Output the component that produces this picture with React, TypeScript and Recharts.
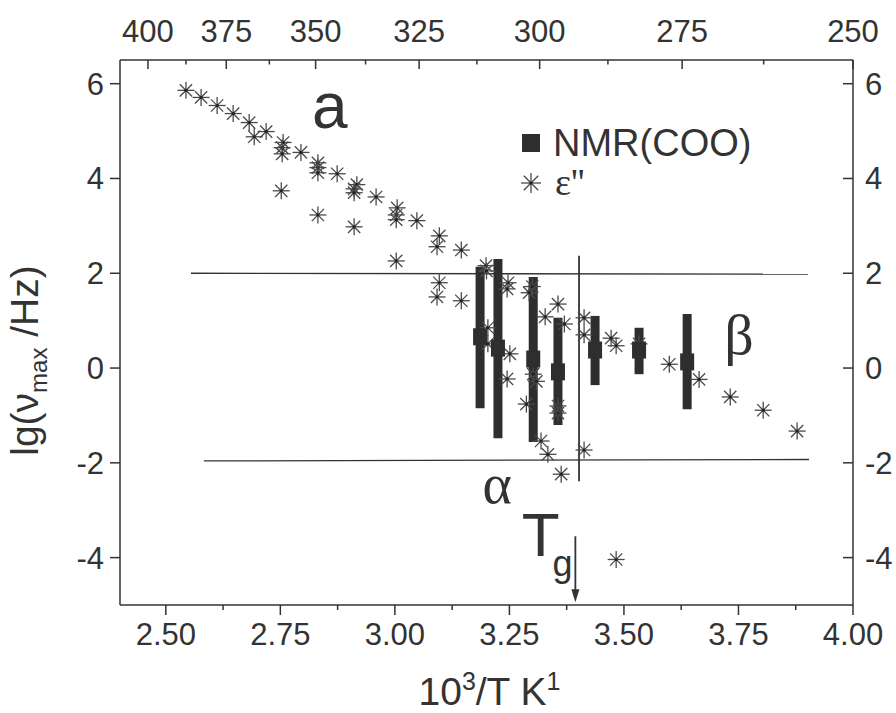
import {
  ComposedChart,
  ErrorBar,
  Legend,
  ReferenceDot,
  ReferenceLine,
  Scatter,
  XAxis,
  YAxis,
} from "recharts";

// eps'' relaxation maxima: 10^3/T and lg(nu_max)
const epsInvT = [
  2.544, 2.577, 2.612, 2.647, 2.682, 2.693, 2.719, 2.756, 2.754, 2.754, 2.795, 2.832, 2.832, 2.832,
  2.874, 2.917, 2.911, 2.911, 2.959, 3.005, 3.003, 3.003, 2.752, 2.832, 2.911, 3.003, 3.048, 3.097,
  3.092, 3.145, 3.097, 3.092, 3.145, 3.199, 3.2, 3.247, 3.245, 3.293, 3.3, 3.356, 3.328, 3.37, 3.413,
  3.413, 3.203, 3.203, 3.251, 3.245, 3.302, 3.309, 3.287, 3.356, 3.356, 3.319, 3.334, 3.363, 3.413,
  3.472, 3.483, 3.533, 3.599, 3.664, 3.732, 3.804, 3.878, 3.483,
];
const epsLg = [
  5.86, 5.71, 5.54, 5.37, 5.18, 4.88, 4.99, 4.76, 4.65, 4.52, 4.55, 4.33, 4.23, 4.12,
  4.1, 3.87, 3.78, 3.7, 3.61, 3.38, 3.23, 3.13, 3.74, 3.23, 2.98, 2.26, 3.11, 2.79,
  2.56, 2.49, 1.8, 1.5, 1.42, 2.16, 2.05, 1.8, 1.67, 1.59, 1.72, 1.35, 1.08, 0.93, 1.06,
  0.7, 0.85, 0.51, 0.3, -0.23, -0.13, -0.28, -0.76, -0.8, -0.95, -1.54, -1.82, -2.24, -1.73,
  0.63, 0.47, 0.51, 0.08, -0.24, -0.61, -0.89, -1.33, -4.04,
];

// NMR(COO): centre and range
const nmrInvT = [3.186, 3.225, 3.302, 3.356, 3.437, 3.533, 3.638];
const nmrLg = [0.66, 0.42, 0.19, -0.08, 0.38, 0.38, 0.13];
const nmrTop = [2.14, 2.3, 1.92, 1.06, 1.1, 0.85, 1.14];
const nmrBottom = [-0.85, -1.48, -1.56, -1.2, -0.36, -0.13, -0.87];

const bottomMajor = [2.5, 2.75, 3.0, 3.25, 3.5, 3.75, 4.0];
const bottomMinor = [2.625, 2.875, 3.125, 3.375, 3.625, 3.875];
// top axis: temperature in K, placed where the original figure puts them
const topLabels = [400, 375, 350, 325, 300, 275, 250];
const topMajorPos = [2.461, 2.632, 2.827, 3.053, 3.316, 3.627, 4.0];
const topMinorPos = [2.544, 2.726, 2.936, 3.179, 3.465, 3.805];
const yTicks = [-4, -2, 0, 2, 4, 6];

const epsData = epsInvT.map((x, i) => ({ x, y: epsLg[i] }));
const nmrData = nmrInvT.map((x, i) => ({ x, y: nmrLg[i], err: [nmrLg[i] - nmrBottom[i], nmrTop[i] - nmrLg[i]] }));

const INK = "#333";
const FONT = "'Liberation Sans', Arial, sans-serif";
const SERIF = "'Liberation Serif', 'Times New Roman', serif";

function StarShape({ cx, cy, r = 8.5 }: any) {
  const d = r * 0.72;
  return (
    <g stroke="#4a4a4a" strokeWidth={1.3}>
      <line x1={cx - r} y1={cy} x2={cx + r} y2={cy} />
      <line x1={cx} y1={cy - r} x2={cx} y2={cy + r} />
      <line x1={cx - d} y1={cy - d} x2={cx + d} y2={cy + d} />
      <line x1={cx - d} y1={cy + d} x2={cx + d} y2={cy - d} />
      <circle cx={cx} cy={cy} r={1.6} fill="#222" stroke="none" />
    </g>
  );
}

function NmrBox({ cx, cy }: any) {
  return <rect x={cx - 7} y={cy - 8.5} width={14} height={17} fill="#2e2e2e" />;
}

function BottomTick({ x, y, payload }: any) {
  const major = bottomMajor.includes(payload.value);
  return (
    <g>
      <line x1={x} y1={y} x2={x} y2={y + (major ? 10 : 5)} stroke={INK} strokeWidth={1.5} />
      {major && (
        <text x={x} y={y + 40} textAnchor="middle" fill={INK} fontSize={31} fontFamily={FONT}>
          {payload.value.toFixed(2)}
        </text>
      )}
    </g>
  );
}

function TopTick({ x, y, payload }: any) {
  const i = topMajorPos.indexOf(payload.value);
  return (
    <g>
      <line x1={x} y1={y} x2={x} y2={y + (i >= 0 ? 9 : 4.5)} stroke={INK} strokeWidth={1.5} />
      {i >= 0 && (
        <text x={x} y={y - 18} textAnchor="middle" fill={INK} fontSize={31} fontFamily={FONT}>
          {topLabels[i]}
        </text>
      )}
    </g>
  );
}

function LeftTick({ x, y, payload }: any) {
  return (
    <g>
      <line x1={x - 10} y1={y} x2={x} y2={y} stroke={INK} strokeWidth={1.5} />
      <text x={x - 16} y={y + 11} textAnchor="end" fill={INK} fontSize={31} fontFamily={FONT}>
        {payload.value}
      </text>
    </g>
  );
}

function RightTick({ x, y, payload }: any) {
  return (
    <g>
      <line x1={x - 10} y1={y} x2={x} y2={y} stroke={INK} strokeWidth={1.5} />
      <text x={x + 12} y={y + 11} textAnchor="start" fill={INK} fontSize={31} fontFamily={FONT}>
        {payload.value}
      </text>
    </g>
  );
}

function YTitle({ viewBox }: any) {
  const cx = viewBox.x - 12;
  const cy = viewBox.y + viewBox.height / 2 + 28;
  return (
    <text transform={`rotate(-90, ${cx}, ${cy})`} x={cx} y={cy} textAnchor="middle" fill={INK} fontSize={39} fontFamily={FONT}>
      lg(ν<tspan dy={9} fontSize={24}>max</tspan>
      <tspan dy={-9}> /Hz)</tspan>
    </text>
  );
}

function XTitle({ viewBox }: any) {
  const cx = viewBox.x + viewBox.width / 2 + 3;
  return (
    <text x={cx} y={705} textAnchor="middle" fill={INK} fontSize={39} fontFamily={FONT}>
      10<tspan dy={-15} fontSize={25}>3</tspan>
      <tspan dy={15}>/T K</tspan>
      <tspan dy={-15} fontSize={25}>1</tspan>
    </text>
  );
}

const textShape = (label: string, size: number, family: string, anchor: "start" | "middle" = "start") =>
  ({ cx, cy }: any) => (
    <text x={cx} y={cy} textAnchor={anchor} fill={INK} fontSize={size} fontFamily={family}>
      {label}
    </text>
  );

function LegendBox() {
  return (
    <svg width={300} height={80} style={{ display: "block", overflow: "visible" }}>
      <rect x={7} y={12} width={18} height={18} fill="#2e2e2e" />
      <text x={38} y={34} fill={INK} fontSize={38} fontFamily={FONT}>NMR(COO)</text>
      <StarShape cx={16} cy={61} r={10} />
      <text x={40} y={73} fill={INK} fontSize={38} fontFamily={SERIF}>ε''</text>
    </svg>
  );
}

export default function App() {
  return (
    <div style={{ position: "absolute", left: 0, top: 0, background: "#fff" }}>
      <ComposedChart width={896} height={713} margin={{ top: 20, right: 3, bottom: 18, left: 50 }}>
        <XAxis
          xAxisId={0}
          type="number"
          dataKey="x"
          domain={[2.4, 4.0]}
          allowDataOverflow
          ticks={[...bottomMajor, ...bottomMinor].sort((a, b) => a - b)}
          interval={0}
          height={90}
          tickSize={0}
          tickMargin={0}
          tickLine={false}
          tick={<BottomTick />}
          axisLine={{ stroke: INK, strokeWidth: 1.5 }}
          label={<XTitle />}
        />
        <XAxis
          xAxisId="top"
          orientation="top"
          type="number"
          dataKey="x"
          domain={[2.4, 4.0]}
          allowDataOverflow
          ticks={[...topMajorPos, ...topMinorPos].sort((a, b) => a - b)}
          interval={0}
          height={40}
          tickSize={0}
          tickMargin={0}
          tickLine={false}
          tick={<TopTick />}
          axisLine={{ stroke: INK, strokeWidth: 1.5 }}
        />
        <YAxis
          yAxisId={0}
          type="number"
          dataKey="y"
          domain={[-5, 6.5]}
          allowDataOverflow
          ticks={yTicks}
          interval={0}
          width={70}
          tickSize={0}
          tickMargin={0}
          tickLine={false}
          tick={<LeftTick />}
          axisLine={{ stroke: INK, strokeWidth: 1.5 }}
          label={<YTitle />}
        />
        <YAxis
          yAxisId="right"
          orientation="right"
          type="number"
          dataKey="y"
          domain={[-5, 6.5]}
          allowDataOverflow
          ticks={yTicks}
          interval={0}
          width={40}
          tickSize={0}
          tickMargin={0}
          tickLine={false}
          tick={<RightTick />}
          axisLine={{ stroke: INK, strokeWidth: 1.5 }}
        />
        {/* invisible series that keeps the top / right axes bound to data */}
        <Scatter
          xAxisId="top"
          yAxisId="right"
          data={epsData}
          shape={() => <g />}
          legendType="none"
          isAnimationActive={false}
        />
        <ReferenceLine segment={[{ x: 2.555, y: 2 }, { x: 3.902, y: 1.98 }]} stroke={INK} strokeWidth={1.3} />
        <ReferenceLine segment={[{ x: 2.583, y: -1.96 }, { x: 3.904, y: -1.93 }]} stroke={INK} strokeWidth={1.3} />
        <ReferenceLine segment={[{ x: 3.402, y: 2.37 }, { x: 3.402, y: -2.39 }]} stroke={INK} strokeWidth={1.8} />
        <ReferenceLine segment={[{ x: 3.394, y: -3.55 }, { x: 3.394, y: -4.75 }]} stroke={INK} strokeWidth={1.8} />
        <ReferenceDot
          x={3.394}
          y={-4.94}
          r={1}
          shape={({ cx, cy }: any) => <polygon points={`${cx - 4},${cy - 13} ${cx + 4},${cy - 13} ${cx},${cy}`} fill={INK} />}
        />
        <Scatter name="ε''" data={epsData} fill="#444" shape={<StarShape />} isAnimationActive={false} />
        <Scatter name="NMR(COO)" data={nmrData} fill="#2e2e2e" shape={<NmrBox />} isAnimationActive={false}>
          <ErrorBar dataKey="err" direction="y" width={0} strokeWidth={9} stroke="#2e2e2e" isAnimationActive={false} />
        </Scatter>
        <ReferenceDot x={2.858} y={5.07} r={1} shape={textShape("a", 64, FONT, "middle")} />
        <ReferenceDot x={3.719} y={0.3} r={1} shape={textShape("β", 58, SERIF)} />
        <ReferenceDot x={3.191} y={-2.85} r={1} shape={textShape("α", 56, SERIF)} />
        <ReferenceDot x={3.277} y={-3.97} r={1} shape={textShape("T", 62, FONT)} />
        <ReferenceDot x={3.344} y={-4.39} r={1} shape={textShape("g", 36, FONT)} />
        <Legend
          layout="horizontal"
          verticalAlign="middle"
          align="center"
          wrapperStyle={{ position: "absolute", left: 515, top: 122, width: 300 }}
          content={() => <LegendBox />}
        />
      </ComposedChart>
    </div>
  );
}
